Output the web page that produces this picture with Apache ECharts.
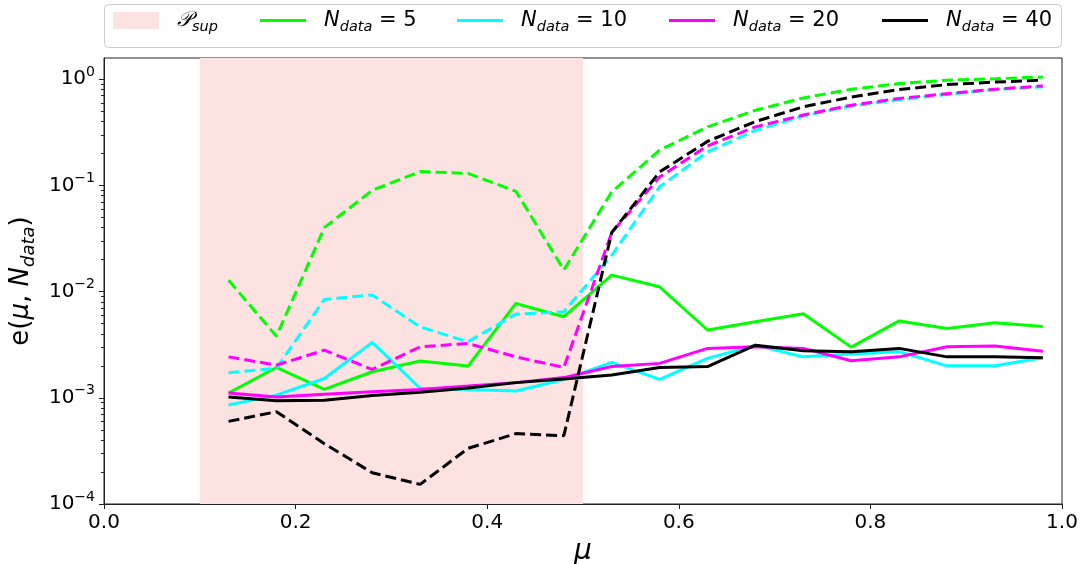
<!DOCTYPE html>
<html><head><meta charset="utf-8">
<script src="https://cdn.jsdelivr.net/npm/echarts@6/dist/echarts.min.js"></script>
<style>html,body{margin:0;padding:0;background:#fff}#c{width:1082px;height:564px}</style>
</head><body><div id="c"></div>
<script>
const mu = [0.13,0.18,0.23,0.28,0.33,0.38,0.43,0.48,0.53,0.58,0.63,0.68,0.73,0.78,0.83,0.88,0.93,0.98];
const n5Solid   = [0.00111,0.00193,0.0012,0.00176,0.00222,0.00199,0.00774,0.0058,0.0143,0.0111,0.00435,0.0052,0.0062,0.0030,0.0053,0.0045,0.0051,0.0047];
const n5Dashed  = [0.0128,0.0038,0.040,0.090,0.135,0.130,0.088,0.016,0.087,0.215,0.356,0.51,0.667,0.805,0.91,0.98,1.01,1.05];
const n10Solid  = [0.000855,0.00106,0.00152,0.00333,0.00123,0.0012,0.00116,0.00149,0.00216,0.00149,0.00235,0.00313,0.00243,0.00258,0.00272,0.0020,0.0020,0.00238];
const n10Dashed = [0.00172,0.0019,0.00845,0.0093,0.00466,0.00337,0.00614,0.00646,0.022,0.097,0.207,0.33,0.45,0.56,0.64,0.72,0.80,0.85];
const n20Solid  = [0.00111,0.00102,0.00108,0.00114,0.0012,0.00129,0.00139,0.00155,0.00197,0.00211,0.00292,0.00302,0.00292,0.00223,0.00243,0.00302,0.00307,0.00275];
const n20Dashed = [0.00243,0.00203,0.00281,0.00185,0.00302,0.00325,0.00243,0.00193,0.036,0.12,0.236,0.356,0.46,0.57,0.66,0.73,0.805,0.865];
const n40Solid  = [0.00102,0.00094,0.00095,0.00105,0.00113,0.00124,0.00139,0.0015,0.00164,0.00193,0.00197,0.00313,0.00277,0.00272,0.00292,0.00243,0.00243,0.00238];
const n40Dashed = [0.0006,0.00074,0.00037,0.000197,0.000153,0.000334,0.00046,0.00044,0.036,0.134,0.26,0.40,0.55,0.68,0.80,0.89,0.94,0.98];
const supRange = [0.1, 0.5];
const yMajor = [1e-4, 1e-3, 1e-2, 1e-1, 1];
const nLabels = ['5', '10', '20', '40'];

const FONT = 'DejaVu Sans';
const yMinor = [];
for (let d = -4; d < 0; d++) for (let k = 2; k <= 9; k++) yMinor.push(k * Math.pow(10, d));

const pair = arr => mu.map((x, i) => [x, arr[i]]);
const colors = ['#00ff00', '#00ffff', '#ff00ff', '#000000'];
const solids = [n5Solid, n10Solid, n20Solid, n40Solid];
const dashes = [n5Dashed, n10Dashed, n20Dashed, n40Dashed];

const series = [{
  name: 'Psup', type: 'line', data: [], color: '#fde2e2', z: 1,
  markArea: { silent: true, itemStyle: { color: '#fde2e2' },
    data: [[{ xAxis: supRange[0] }, { xAxis: supRange[1] }]] }
}];
for (let i = 0; i < 4; i++) {
  series.push({ name: 'N' + nLabels[i], type: 'line', data: pair(solids[i]), color: colors[i],
    symbol: 'none', z: 3 + i, lineStyle: { width: 3, color: colors[i] } });
  series.push({ name: 'N' + nLabels[i] + 'd', type: 'line', data: pair(dashes[i]), color: colors[i],
    symbol: 'none', z: 3 + i, lineStyle: { width: 3, color: colors[i], type: [11, 5] } });
}

const legRich = {
  m: { fontSize: 21, fontFamily: FONT, color: '#000', lineHeight: 28 },
  i: { fontSize: 21, fontFamily: FONT, fontStyle: 'italic', color: '#000', lineHeight: 28 },
  s: { fontSize: 14.5, fontFamily: FONT, fontStyle: 'italic', color: '#000', lineHeight: 17, verticalAlign: 'bottom' },
  sp: { width: 13, fontSize: 21, lineHeight: 28 }
};
const linePath = 'path://M0,0H46V3H0Z';
const legendDefs = [
  { name: 'Psup', left: 113, icon: 'rect', text: '{sp|\u00a0}{i|\uD835\uDCAB}{s|sup}' },
  { name: 'N5', left: 260, icon: linePath, text: '{sp|\u00a0}{i|N}{s|data}{m| = 5}' },
  { name: 'N10', left: 457, icon: linePath, text: '{sp|\u00a0}{i|N}{s|data}{m| = 10}' },
  { name: 'N20', left: 669, icon: linePath, text: '{sp|\u00a0}{i|N}{s|data}{m| = 20}' },
  { name: 'N40', left: 882, icon: linePath, text: '{sp|\u00a0}{i|N}{s|data}{m| = 40}' }
];
const legends = legendDefs.map(d => ({
  left: d.left, top: 10, padding: 0, itemWidth: 46, itemHeight: 17, itemGap: 0,
  selectedMode: false, itemStyle: { borderWidth: 0 },
  data: [{ name: d.name, icon: d.icon }],
  formatter: () => d.text,
  textStyle: { rich: legRich }
}));

const supFmt = v => {
  const e = Math.round(Math.log10(v));
  return '{b|10}{s|' + (e < 0 ? '\u2212' + (-e) : String(e)) + '}';
};

const option = {
  animation: false,
  backgroundColor: '#fff',
  graphic: [{ type: 'rect', z: 0, shape: { x: 104.5, y: 4.5, width: 957, height: 43, r: 4 },
    style: { fill: '#fff', stroke: '#cccccc', lineWidth: 1 } }],
  legend: legends,
  grid: { left: 104, right: 20, top: 58, bottom: 60, containLabel: false, outerBoundsMode: 'none',
    show: true, borderColor: '#222', borderWidth: 1, backgroundColor: 'transparent' },
  xAxis: {
    type: 'value', min: 0, max: 1, interval: 0.2,
    name: 'μ', nameLocation: 'middle', nameGap: 31,
    nameTextStyle: { fontFamily: FONT, fontSize: 28, fontStyle: 'italic', color: '#000' },
    axisLine: { lineStyle: { color: '#222', width: 1 } },
    axisTick: { length: 5, lineStyle: { color: '#222' } },
    axisLabel: { fontFamily: FONT, fontSize: 20, color: '#000', margin: 9, formatter: v => v.toFixed(1) },
    splitLine: { show: false }
  },
  yAxis: [{
    type: 'log', logBase: 10, min: 1e-4, max: 1.585, position: 'left',
    name: '{m|e(}{i|μ}{m|, }{i|N}{s|data}{m|)}', nameLocation: 'middle', nameGap: 56, nameRotate: 90,
    nameTextStyle: { rich: {
      m: { fontFamily: FONT, fontSize: 26, color: '#000', lineHeight: 34 },
      i: { fontFamily: FONT, fontSize: 26, fontStyle: 'italic', color: '#000', lineHeight: 34 },
      s: { fontFamily: FONT, fontSize: 18, fontStyle: 'italic', color: '#000', lineHeight: 21, verticalAlign: 'bottom' }
    } },
    axisLine: { show: true, lineStyle: { color: '#222', width: 1 } },
    axisTick: { show: true, length: 5, customValues: yMajor, lineStyle: { color: '#222' } },
    axisLabel: { customValues: yMajor, margin: 9, formatter: supFmt, rich: {
      b: { fontFamily: FONT, fontSize: 20, color: '#000', lineHeight: 28 },
      s: { fontFamily: FONT, fontSize: 14, color: '#000', lineHeight: 18, verticalAlign: 'top' }
    } },
    splitLine: { show: false }, minorTick: { show: false }
  }, {
    type: 'log', logBase: 10, min: 1e-4, max: 1.585, position: 'left',
    axisLine: { show: false },
    axisTick: { show: true, length: 3, customValues: yMinor, lineStyle: { color: '#222' } },
    axisLabel: { show: false },
    splitLine: { show: false }
  }],
  series: series
};
const chart = echarts.init(document.getElementById('c'), null, { renderer: 'canvas' });
chart.setOption(option);
</script>
</body></html>
